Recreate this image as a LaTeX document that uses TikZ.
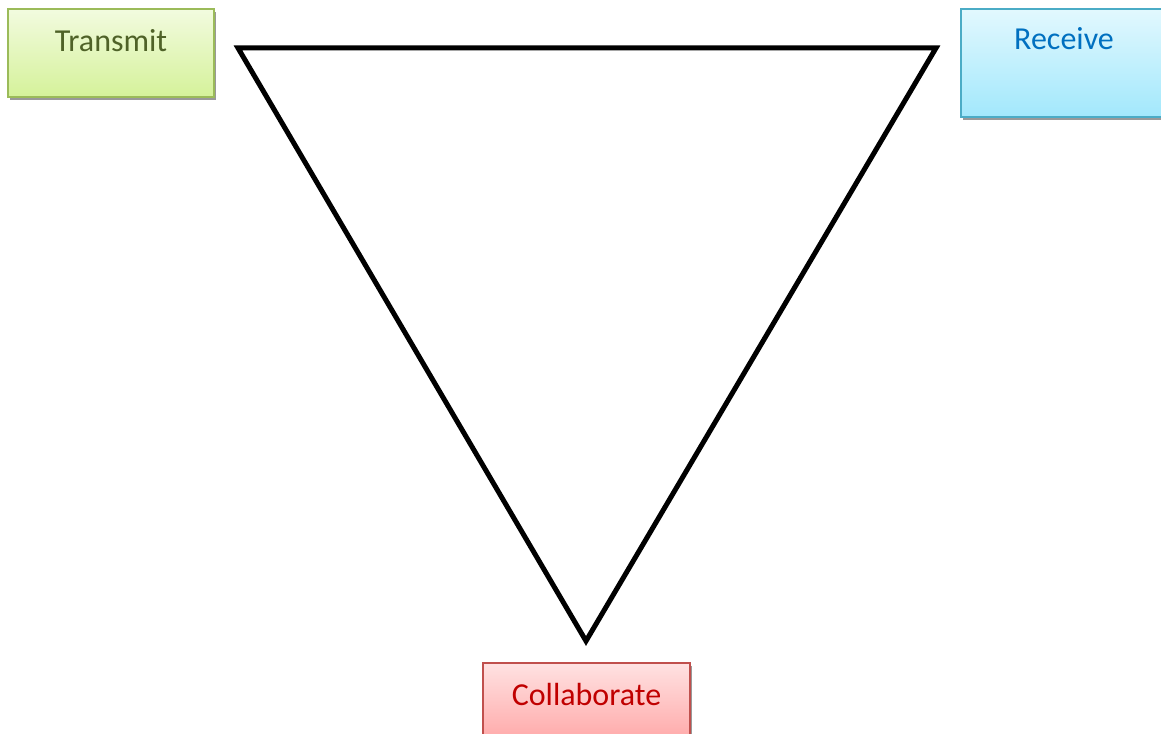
\documentclass[tikz,border=0pt]{standalone}
\usepackage{fontspec}
\setmainfont{Carlito}
\usetikzlibrary{shadows}
\definecolor{gBorder}{HTML}{9BBB59}
\definecolor{gTop}{HTML}{F2FBDF}
\definecolor{gBot}{HTML}{D5F29A}
\definecolor{gText}{HTML}{4F6228}
\definecolor{bBorder}{HTML}{4BACC6}
\definecolor{bTop}{HTML}{E2F8FE}
\definecolor{bBot}{HTML}{A2E8FC}
\definecolor{bText}{HTML}{0070C0}
\definecolor{rBorder}{HTML}{C0504D}
\definecolor{rTop}{HTML}{FFE2E2}
\definecolor{rBot}{HTML}{FFA2A2}
\definecolor{rText}{HTML}{C00000}
\tikzset{
  box/.style={rectangle, inner xsep=0pt, inner ysep=0pt, line width=1.2pt,
    font=\fontsize{32}{36}\selectfont, align=center,
    drop shadow={shadow xshift=1.5pt, shadow yshift=-3pt, fill=black!40, opacity=1}},
  tri/.style={line width=5pt, line join=miter, draw=black}
}
\begin{document}
\begin{tikzpicture}[x=1pt,y=-1pt]
\useasboundingbox (0,0) rectangle (1161,733);
\draw[tri] (238,48) coordinate (A) -- (936,48) coordinate (B) -- (586,641) coordinate (C) -- cycle;
\node[box, draw=gBorder, top color=gTop, bottom color=gBot, text=gText,
  minimum width=206pt, text height=43pt, text depth=45pt, anchor=base]
  (transmit) at (111,52) {Transmit};
\node[box, draw=bBorder, top color=bTop, bottom color=bBot, text=bText,
  minimum width=206pt, text height=41pt, text depth=67pt, anchor=base]
  (receive) at (1064,50) {Receive};
\node[box, draw=rBorder, top color=rTop, bottom color=rBot, text=rText,
  minimum width=207pt, text height=42pt, text depth=45pt, anchor=base]
  (collab) at (586.5,705) {Collaborate};
\end{tikzpicture}
\end{document}
